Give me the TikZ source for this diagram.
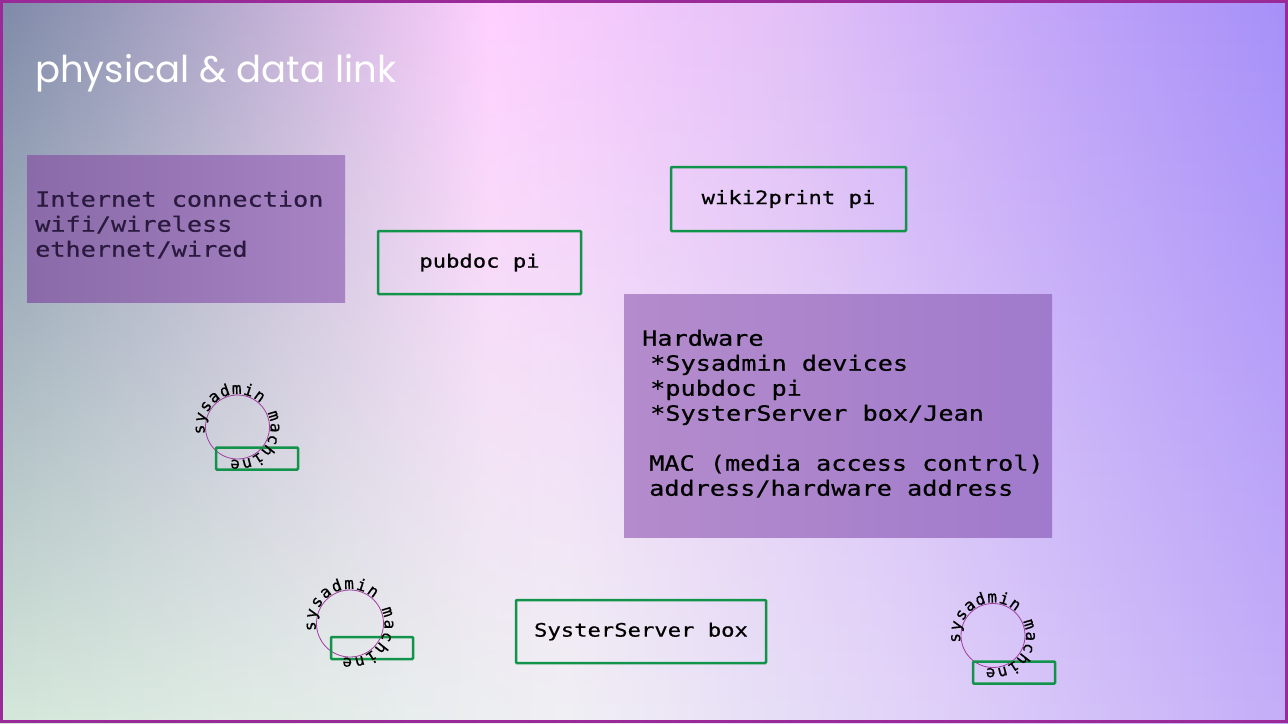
\documentclass[tikz,border=0pt]{standalone}
\usepackage{fontspec}
\setmonofont[FakeStretch=1.2, FakeBold=0.6]{DejaVu Sans Mono}
\newfontfamily\ringfamily[FakeBold=0.6]{DejaVu Sans Mono}
\newfontfamily\titlefont{Poppins}
\usetikzlibrary{positioning, fadings, decorations.text}

\definecolor{pigreen}{RGB}{18, 147, 74}
\definecolor{framepurple}{RGB}{154, 42, 152}
\definecolor{ringpurple}{RGB}{160, 60, 160}
\definecolor{notedark}{RGB}{43, 26, 63}
\definecolor{tl}{RGB}{126, 138, 168}
\definecolor{tlm}{RGB}{170, 164, 198}
\definecolor{tpink}{RGB}{255, 208, 255}
\definecolor{trm}{RGB}{226, 192, 248}
\definecolor{tr2}{RGB}{190, 162, 248}
\definecolor{tr}{RGB}{166, 144, 248}
\definecolor{bl}{RGB}{212, 232, 218}
\definecolor{bm}{RGB}{240, 240, 244}
\definecolor{brm}{RGB}{226, 212, 248}
\definecolor{br}{RGB}{196, 174, 248}
\definecolor{inetleft}{RGB}{138, 106, 168}
\definecolor{inetright}{RGB}{168, 132, 196}
\definecolor{hwleft}{RGB}{180, 140, 204}
\definecolor{hwright}{RGB}{160, 122, 204}

% background washes, path mapped to 25bp..75bp
\pgfdeclarehorizontalshading{topwash}{100bp}{color(0bp)=(tl); color(25bp)=(tl); color(32bp)=(tlm); color(44bp)=(tpink); color(56bp)=(trm); color(67bp)=(tr2); color(75bp)=(tr); color(100bp)=(tr)}
\pgfdeclarehorizontalshading{bottomwash}{100bp}{color(0bp)=(bl); color(25bp)=(bl); color(47bp)=(bm); color(60bp)=(brm); color(75bp)=(br); color(100bp)=(br)}

\newcommand{\notefont}{\ttfamily\fontsize{21}{25}\selectfont}
\newcommand{\pifont}{\ttfamily\fontsize{18.5}{22}\selectfont}
\newcommand{\ringfont}{\ringfamily\fontsize{16}{19}\selectfont}
\newcommand{\fullspaces}{\spaceskip=0pt \xspaceskip=0pt }

\begin{document}
\begin{tikzpicture}[x=1pt, y=-1pt,
  pibox/.style={draw=pigreen, line width=2.5pt, rounded corners=1pt, font=\pifont, inner sep=0pt},
  tagbox/.style={draw=pigreen, line width=2.5pt, rounded corners=1pt, inner sep=0pt, minimum width=82pt, minimum height=22pt},
  notebox/.style={anchor=north west, inner sep=0pt},
  notetext/.style={anchor=west, align=left, inner sep=0pt, font=\notefont},
  ring/.style={circle, draw=ringpurple, line width=0.8pt, inner sep=0pt, minimum size=64pt},
  ringtext/.style={decorate, decoration={text along path, text={|\ringfont|sysadmin machine}, text align=fit to path}}
]
  \useasboundingbox (0,0) rectangle (1288,723);
  \shade[shading=topwash] (0,0) rectangle (1288,723);
  \shade[shading=bottomwash, path fading=north] (0,0) rectangle (1288,723);
  \draw[framepurple, line width=3pt] (1.5,1.5) rectangle (1286.5,721.5);

  \node[anchor=base west, inner sep=0pt, text=white, font=\titlefont\fontsize{37}{42}\selectfont] (title) at (35,82) {physical \& data link};

  % notes
  \node[notebox, left color=inetleft, right color=inetright, minimum width=318pt, minimum height=147pt] (inet) at (27,155) {};
  \node[notetext, text=notedark, xshift=8pt, yshift=4pt] (inettext) at (inet.west)
    {\fullspaces Internet connection\\wifi/wireless\\ethernet/wired};
  \node[notebox, left color=hwleft, right color=hwright, minimum width=428pt, minimum height=243pt] (hw) at (624,294) {};
  \node[notetext, xshift=18pt, yshift=2pt] (hwtext) at (hw.west)
    {\fullspaces Hardware\\
     \hspace*{8pt}*Sysadmin devices\\
     \hspace*{8pt}*pubdoc pi\\
     \hspace*{8pt}*SysterServer box/Jean\\[25pt]
     \hspace*{7pt}MAC (media access control)\\
     \hspace*{7pt}address/hardware address};

  % boxes
  \node[pibox, minimum width=203pt, minimum height=63pt] (pubdoc) at (479.5,262.5) {pubdoc pi};
  \node[pibox, minimum width=235pt, minimum height=64pt] (wiki) at (788.5,199) {wiki2print pi};
  \node[pibox, minimum width=250pt, minimum height=63pt] (syster) at (641,631.5) {SysterServer box};

  % sysadmin machines
  \node[ring] (ringA) at (237.5,427) {};
  \node[tagbox] (tagA) at (257,458.5) {};
  \path[ringtext] (ringA.center) ++(168:33) arc[start angle=168, end angle=462, radius=33];

  \node[ring, minimum size=67pt] (ringB) at (350,623.5) {};
  \node[tagbox] (tagB) at (372,648) {};
  \path[ringtext] (ringB.center) ++(168:34.5) arc[start angle=168, end angle=462, radius=34.5];

  \node[ring] (ringC) at (993,635.5) {};
  \node[tagbox] (tagC) at (1014,672.5) {};
  \path[ringtext] (ringC.center) ++(168:33) arc[start angle=168, end angle=462, radius=33];
\end{tikzpicture}
\end{document}
